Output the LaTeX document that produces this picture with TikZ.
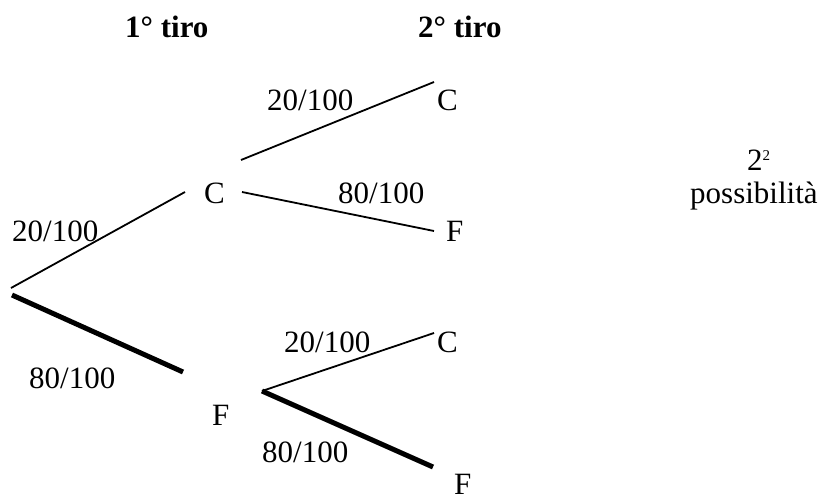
\documentclass[tikz,border=0pt]{standalone}
\usepackage{fontspec}
\setmainfont{Liberation Serif}
\begin{document}
\begin{tikzpicture}[x=1pt,y=-1pt,
  lbl/.style={inner sep=0pt,anchor=base west,font=\fontsize{31}{34}\selectfont},
  head/.style={lbl,font=\fontsize{31}{34}\selectfont\bfseries},
  thin/.style={line width=1.8pt},
  thick/.style={line width=5pt}]
\useasboundingbox (0,0) rectangle (824,498);
% headings
\node[head] (h1) at (125,37) {1° tiro};
\node[head] (h2) at (418,37) {2° tiro};
% branch points
\coordinate (r1) at (11,288);
\coordinate (r2) at (12,295);
\coordinate (c1) at (185,192);
\coordinate (f1) at (183,372);
\coordinate (cu) at (241,160);
\coordinate (cd) at (242,192);
\coordinate (cc) at (434,82);
\coordinate (cf) at (434,231);
\coordinate (fo) at (262,391);
\coordinate (fc) at (434,333);
\coordinate (ff) at (433,467);
% letters
\node[lbl] (C1) at (204,203) {C};
\node[lbl] (F1) at (212,425) {F};
\node[lbl] (CC) at (437,110) {C};
\node[lbl] (CF) at (446,241) {F};
\node[lbl] (FC) at (437,352) {C};
\node[lbl] (FF) at (454,494) {F};
% probabilities
\node[lbl] (p1) at (12,241) {20/100};
\node[lbl] (p2) at (29,388) {80/100};
\node[lbl] (p3) at (267,110) {20/100};
\node[lbl] (p4) at (338,203) {80/100};
\node[lbl] (p5) at (284,352) {20/100};
\node[lbl] (p6) at (262,462) {80/100};
% note
\node[lbl] (pow) at (747,170) {2\raisebox{10pt}{\fontsize{15}{15}\selectfont 2}};
\node[lbl] (poss) at (690,203) {possibilità};
% connectors
\draw[thin] (r1) -- (c1);
\draw[thick] (r2) -- (f1);
\draw[thin] (cu) -- (cc);
\draw[thin] (cd) -- (cf);
\draw[thin] (fo) -- (fc);
\draw[thick] (fo) -- (ff);
\end{tikzpicture}
\end{document}
